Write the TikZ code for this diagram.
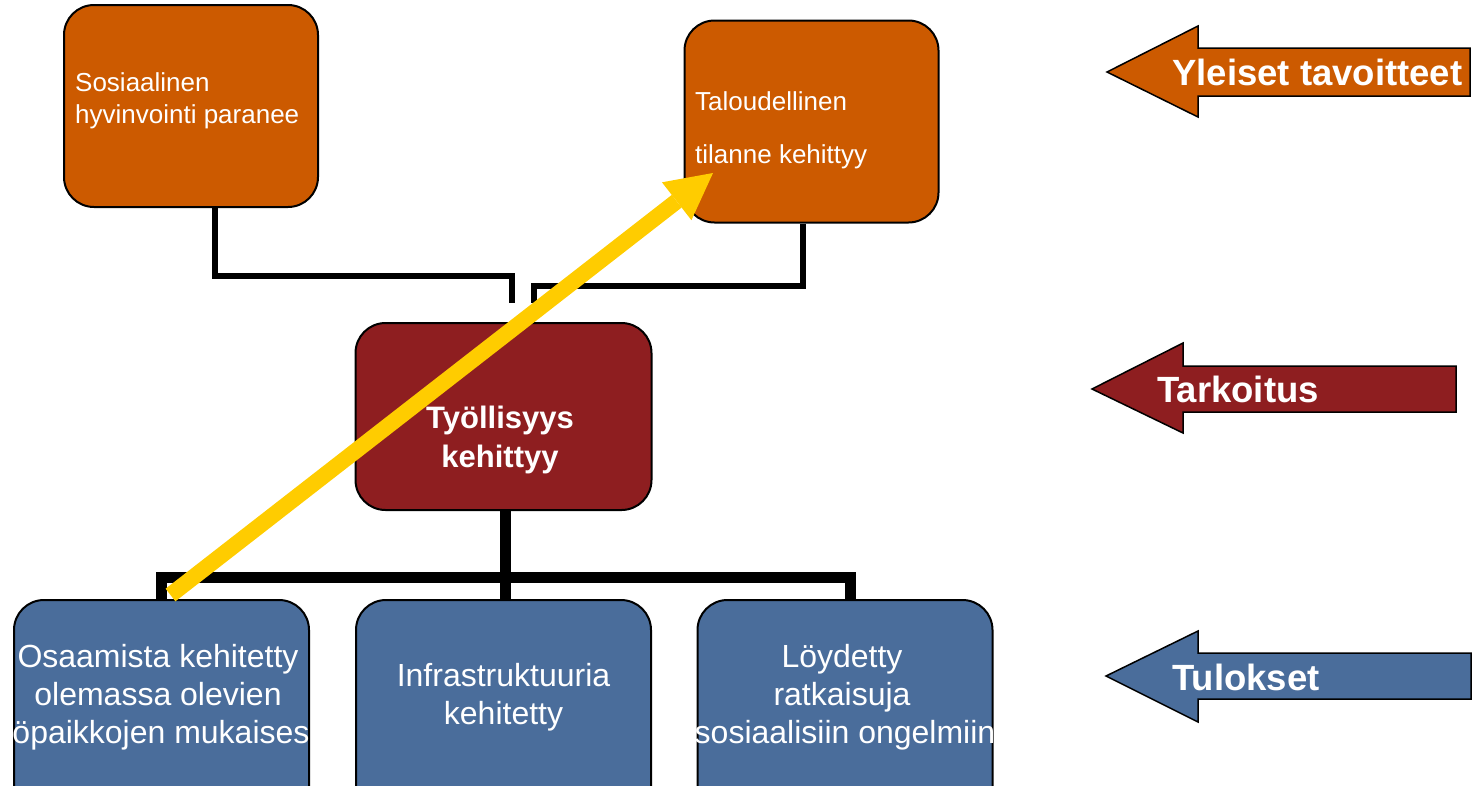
\documentclass[tikz,border=0pt]{standalone}
\usepackage{fontspec}
\setmainfont{Liberation Sans}
\usetikzlibrary{arrows.meta,backgrounds}
\definecolor{goalorange}{HTML}{CC5A00}
\definecolor{purposered}{HTML}{8E1E20}
\definecolor{resultblue}{HTML}{4A6D9B}
\definecolor{pathyellow}{HTML}{FFCC00}
\begin{document}
\begin{tikzpicture}[x=1pt,y=-1pt,
  box/.style={draw=black, line width=2pt, rounded corners=30pt, inner sep=0pt},
  goalbox/.style={box, fill=goalorange, minimum width=254pt, minimum height=202pt},
  purposebox/.style={box, fill=purposered, minimum width=296pt, minimum height=187pt},
  resultbox/.style={box, fill=resultblue, minimum width=295pt, minimum height=220pt},
  goaltxt/.style={text=white, inner sep=0pt, anchor=base west, font=\fontsize{26}{30}\selectfont},
  purposetxt/.style={text=white, inner sep=0pt, anchor=base, font=\fontsize{31}{36}\selectfont\bfseries},
  resulttxt/.style={text=white, inner sep=0pt, anchor=base, font=\fontsize{32}{38}\selectfont},
  labeltxt/.style={text=white, inner sep=0pt, anchor=base west, font=\fontsize{36.5}{42}\selectfont\bfseries},
  link/.style={draw=black, line width=6pt},
  bus/.style={draw=black, line width=11pt},
  blockarrow/.style={draw=black, line width=1.5pt, line join=miter},
  trend/.style={draw=pathyellow, line width=16pt,
    -{Triangle[length=46pt,width=48pt,line width=0pt,fill=pathyellow]}}
]
\useasboundingbox (0,0) rectangle (1479,785);
\clip (0,0) rectangle (1479,785);

% boxes
\node[goalbox] (g1) at (191,106) {};
\node[goalbox] (g2) at (811.5,121.5) {};
\node[purposebox] (p) at (503.5,416.5) {};
\node[resultbox] (r1) at (161.5,710) {};
\node[resultbox] (r2) at (503.5,710) {};
\node[resultbox] (r3) at (845,710) {};

\begin{pgfonlayer}{background}
% connectors between the goals and the purpose
\coordinate (jl) at (512,303);
\coordinate (jr) at (534,303);
\draw[link] ([xshift=24pt]g1.south) |- (jl |- 0,276) -- (jl);
\draw[link] ([xshift=-8.5pt]g2.south) |- (jr |- 0,286) -- (jr);

% connectors from the purpose down to the results
\coordinate (busL) at (161.5,577.5);
\coordinate (busM) at (505,577.5);
\coordinate (busR) at (850.5,577.5);
\draw[bus] (busL |- r1.north) -- (busL) -- (busR) -- (busR |- r3.north);
\draw[bus] (busM |- p.south) -- (busM |- r2.north);
\end{pgfonlayer}

% box texts
\node[goaltxt] (g1a) at (75,91) {Sosiaalinen};
\node[goaltxt] (g1b) at (75,123) {hyvinvointi paranee};
\node[goaltxt] (g2a) at (695,110) {Taloudellinen};
\node[goaltxt] (g2b) at (695,163) {tilanne kehittyy};
\node[purposetxt] (pa) at (500,428) {Työllisyys};
\node[purposetxt] (pb) at (500,467) {kehittyy};
\node[resulttxt] (r1a) at (158,667) {Osaamista kehitetty};
\node[resulttxt] (r1b) at (158,705) {olemassa olevien};
\node[resulttxt] (r1c) at (161,743) {öpaikkojen mukaises};
\node[resulttxt] (r2a) at (503.5,686) {Infrastruktuuria};
\node[resulttxt] (r2b) at (503.5,724) {kehitetty};
\node[resulttxt] (r3a) at (842,667) {Löydetty};
\node[resulttxt] (r3b) at (842,705) {ratkaisuja};
\node[resulttxt] (r3c) at (845,743) {sosiaalisiin ongelmiin};

% level arrows on the right
\draw[blockarrow, fill=goalorange] (1107,72) -- (1198,26) -- (1198,48) -- (1470,48)
  -- (1470,96) -- (1198,96) -- (1198,117) -- cycle;
\node[labeltxt] (la) at (1172,85) {Yleiset tavoitteet};
\draw[blockarrow, fill=purposered] (1092,389) -- (1183,343) -- (1183,366) -- (1456,366)
  -- (1456,412) -- (1183,412) -- (1183,433) -- cycle;
\node[labeltxt] (lb) at (1157,402) {Tarkoitus};
\draw[blockarrow, fill=resultblue] (1106,676) -- (1198,631) -- (1198,653) -- (1471,653)
  -- (1471,699) -- (1198,699) -- (1198,722) -- cycle;
\node[labeltxt] (lc) at (1172,690) {Tulokset};

% yellow path from a result up to the economic goal
\coordinate (ytail) at (170.5,595);
\coordinate (ytip) at (713,173);
\draw[trend] (ytail) -- (ytip);
\end{tikzpicture}
\end{document}
